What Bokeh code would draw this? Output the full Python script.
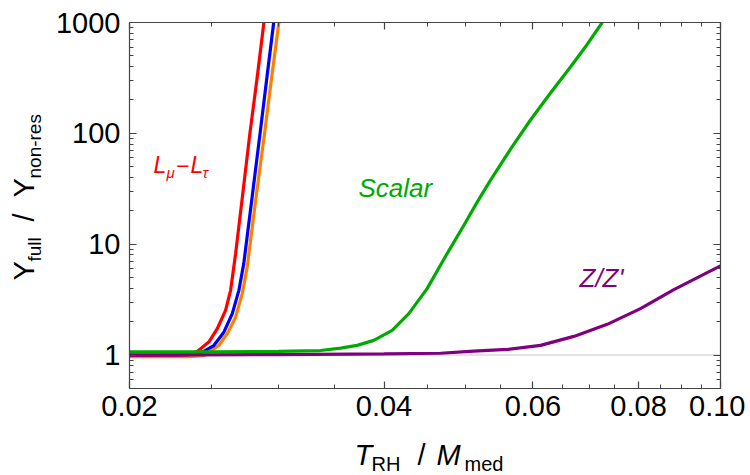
import math
from bokeh.plotting import figure
from bokeh.layouts import row, column
from bokeh.models import (LogAxis, FixedTicker, CustomJSTickFormatter, Label, Span)
from bokeh.core.properties import value
from bokeh.embed import file_html
from bokeh.resources import INLINE

# ---------------- data ----------------
x_red = [0.020, 0.022, 0.0235, 0.02405, 0.02482, 0.0254, 0.02598, 0.02634, 0.02657, 0.0267, 0.02717, 0.02776, 0.02834, 0.02884]
y_red = [1.0, 1.0, 1.01, 1.08, 1.31, 1.73, 2.53, 3.84, 6.24, 8.2, 25, 100, 336, 1000]

x_blue = [0.020, 0.0225, 0.0240, 0.02448, 0.02516, 0.02586, 0.02646, 0.02694, 0.0273, 0.0279, 0.02854, 0.0291, 0.02962]
y_blue = [1.0, 1.0, 1.02, 1.08, 1.22, 1.61, 2.37, 3.84, 6.69, 25, 100, 336, 1000]

x_orange = [0.020, 0.0235, 0.0245, 0.02494, 0.0255, 0.0261, 0.0267, 0.02719, 0.02756, 0.0282, 0.02889, 0.02948, 0.03004]
y_orange = [0.97, 0.97, 0.99, 1.08, 1.22, 1.56, 2.20, 3.59, 6.24, 25, 100, 336, 1000]

x_green = [0.020, 0.025, 0.030, 0.03364, 0.03554, 0.03718, 0.0389, 0.0409, 0.04279, 0.04498, 0.0475,
           0.04972, 0.05155, 0.05346, 0.05645, 0.0596, 0.06294, 0.06646, 0.06955, 0.07246]
y_green = [1.07, 1.07, 1.08, 1.10, 1.157, 1.224, 1.358, 1.671, 2.366, 3.98, 8.24,
           14.85, 24.0, 37.9, 72.1, 132, 231, 397, 634, 1000]

x_purple = [0.020, 0.030, 0.040, 0.04664, 0.05108, 0.05594, 0.06126, 0.06708, 0.07346, 0.08042, 0.08808, 0.09644, 0.10]
y_purple = [1.00, 1.01, 1.025, 1.04, 1.087, 1.126, 1.224, 1.475, 1.894, 2.625, 3.898, 5.55, 6.37]

x_ticks = [0.02, 0.04, 0.06, 0.08, 0.10]
x_minor = [0.025, 0.03, 0.035, 0.045, 0.05, 0.055, 0.065, 0.07, 0.075, 0.085, 0.09, 0.095]
y_ticks = [1, 10, 100, 1000]
y_minor = [0.5, 0.6, 0.7, 0.8, 0.9, 2, 3, 4, 5, 6, 7, 8, 9, 20, 30, 40, 50, 60, 70, 80, 90,
           200, 300, 400, 500, 600, 700, 800, 900]

X_RANGE = (0.02, 0.10)
Y_RANGE = (0.5, 1000)

# ---------------- styles / layout ----------------
FONT = "Liberation Sans"
AX = "#444444"
C_RED, C_BLUE, C_ORANGE, C_GREEN, C_PURPLE = "#FF0000", "#0000FF", "#FF8000", "#00AA00", "#800080"
LW = 3.2
BIAS = 0.32            # rendered baseline sits ~0.32 em below the anchor

YLAB_W = 50            # width of the left strip holding the y-axis title
MAIN_W, MAIN_H = 695, 438
XLAB_H = 37
TOTAL_H = MAIN_H + XLAB_H

# frame position on the page (px)
FL, FR, FT, FB = 129, 720, 22, 388

p = figure(width=MAIN_W, height=MAIN_H, x_axis_type="log", y_axis_type="log",
           x_range=X_RANGE, y_range=Y_RANGE, output_backend="svg", toolbar_location=None,
           min_border_left=FL - YLAB_W, min_border_top=FT,
           min_border_right=YLAB_W + MAIN_W - FR, min_border_bottom=MAIN_H - FB)
p.background_fill_color = "white"
p.border_fill_color = "white"
p.outline_line_color = None
p.grid.visible = False


def dx(px):
    lo, hi = math.log10(X_RANGE[0]), math.log10(X_RANGE[1])
    return 10 ** (lo + (px - FL) / (FR - FL) * (hi - lo))


def dy(py):
    lo, hi = math.log10(Y_RANGE[0]), math.log10(Y_RANGE[1])
    return 10 ** (lo + (FB - py) / (FB - FT) * (hi - lo))


def style_axis(ax, ticks, minor, fmt_code, show_labels=True):
    ax.ticker = FixedTicker(ticks=ticks, minor_ticks=minor)
    ax.axis_line_color = AX
    ax.axis_line_width = 1.2
    ax.major_tick_line_color = AX
    ax.minor_tick_line_color = AX
    ax.major_tick_line_width = 1.2
    ax.minor_tick_line_width = 1.0
    ax.major_tick_in = 7
    ax.major_tick_out = 0
    ax.minor_tick_in = 4
    ax.minor_tick_out = 0
    if show_labels:
        ax.formatter = CustomJSTickFormatter(code=fmt_code)
        ax.major_label_text_font = FONT
        ax.major_label_text_font_size = "29px"
        ax.major_label_text_color = "black"
    else:
        ax.formatter = CustomJSTickFormatter(code="return '';")
        ax.major_label_text_font_size = "0px"
        ax.major_label_standoff = 0


xa = p.xaxis[0]
ya = p.yaxis[0]
style_axis(xa, x_ticks, x_minor, "return tick.toFixed(2);")
style_axis(ya, y_ticks, y_minor, "return tick.toFixed(0);")
xa.major_label_standoff = 7
ya.major_label_standoff = 9

top = LogAxis()
style_axis(top, x_ticks, x_minor, "", show_labels=False)
p.add_layout(top, "above")
right = LogAxis()
style_axis(right, y_ticks, y_minor, "", show_labels=False)
p.add_layout(right, "right")

# reference line at 1
p.add_layout(Span(location=1, dimension="width", line_color="#d9d9d9", line_width=1.5, level="underlay"))

# curves
p.line(x_orange, y_orange, line_color=C_ORANGE, line_width=LW)
p.line(x_blue, y_blue, line_color=C_BLUE, line_width=LW)
p.line(x_red, y_red, line_color=C_RED, line_width=LW)
p.line(x_purple, y_purple, line_color=C_PURPLE, line_width=LW)
p.line(x_green, y_green, line_color=C_GREEN, line_width=LW)


def lab(px, py, text, size, color="black", italic=False):
    # (px, py): wanted baseline-left point on the page
    p.add_layout(Label(x=dx(px), y=dy(py - BIAS * size), text=text, text_font=FONT,
                       text_font_size=f"{size}px",
                       text_font_style="italic" if italic else "normal", text_color=color,
                       text_align="left", text_baseline="alphabetic"))


# in-plot labels
lab(153, 172, "L", 23, C_RED, True)
lab(166, 177, "μ", 15, C_RED, True)
lab(175, 172, "−", 23, C_RED, True)
lab(190, 172, "L", 23, C_RED, True)
lab(202, 177, "τ", 15, C_RED, True)
lab(358, 196, "Scalar", 26, C_GREEN, True)
lab(579, 286, "Z/Z'", 26, C_PURPLE, True)


# ---------------- axis-title strips ----------------
def strip(w, h, xr):
    f = figure(width=w, height=h, x_range=xr, y_range=(0, h), output_backend="svg",
               toolbar_location=None, x_axis_location=None, y_axis_location=None,
               min_border=0, min_border_left=0, min_border_right=0, min_border_top=0, min_border_bottom=0)
    f.outline_line_color = None
    f.grid.visible = False
    f.background_fill_color = "white"
    f.border_fill_color = "white"
    return f


def put(f, px, py, text, size, italic=False, angle=0.0):
    # (px, py): wanted baseline-left point on the page
    if angle == 0.0:
        ax_, ay_ = px, py - BIAS * size
    else:
        ax_, ay_ = px - BIAS * size, py
    f.text(x=[ax_], y=[TOTAL_H - ay_], text=[text], text_font=value(FONT),
           text_font_size=value(f"{size}px"), text_font_style="italic" if italic else "normal",
           text_color="black", text_align="left", text_baseline="alphabetic", angle=angle)


# x title: T_RH / M_med  (this strip's frame is aligned with the main frame: FL..FR on the page)
xl = strip(MAIN_W, XLAB_H, (FL, FR))
put(xl, 354, 464, "T", 29, italic=True)
put(xl, 371, 470, "RH", 20)
put(xl, 417, 464, "/", 29)
put(xl, 436, 464, "M", 29, italic=True)
put(xl, 464, 470, "med", 20)

# y title: Y_full / Y_non-res (rotated)
yl = strip(YLAB_W, TOTAL_H, (0, YLAB_W))
A = math.pi / 2
put(yl, 33, 280, "Y", 29, angle=A)
put(yl, 40, 261, "full", 19, angle=A)
put(yl, 33, 221, "/", 29, angle=A)
put(yl, 33, 197, "Y", 29, angle=A)
put(yl, 40, 178, "non-res", 19, angle=A)

layout = row(yl, column(p, xl, spacing=0), spacing=0)

open("out.html", "w").write(file_html(layout, INLINE))
